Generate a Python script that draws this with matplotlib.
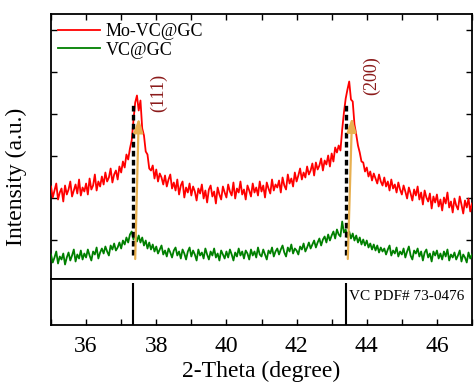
import numpy as np
import matplotlib
matplotlib.use("Agg")
import matplotlib.pyplot as plt

# ---------------- data ----------------
two_theta_start = 35.0
two_theta_step = 0.05

mo_vc_gc = [
    92, 81, 88, 95, 79, 86, 90, 77, 93, 84,
    89, 97, 82, 88, 94, 85, 99, 83, 91, 87,
    95, 84, 100, 89, 93, 104, 88, 97, 92, 102,
    94, 106, 97, 101, 110, 96, 104, 108, 99, 112,
    106, 117, 111, 124, 119, 130, 138, 158, 176, 183,
    168, 178, 150, 143, 127, 124, 110, 108, 113, 100,
    109, 97, 105, 101, 94, 103, 92, 99, 104, 90,
    96, 88, 99, 84, 93, 97, 81, 91, 86, 95,
    83, 92, 87, 78, 90, 85, 94, 80, 88, 76,
    89, 93, 82, 87, 75, 91, 84, 79, 92, 86,
    81, 94, 87, 83, 96, 80, 90, 86, 97, 84,
    89, 79, 93, 88, 82, 95, 86, 91, 83, 97,
    87, 93, 81, 96, 90, 85, 99, 88, 94, 91,
    98, 86, 101, 93, 89, 104, 95, 100, 92, 106,
    97, 103, 110, 99, 106, 101, 112, 104, 108, 115,
    103, 116, 109, 113, 120, 108, 118, 114, 123, 112,
    125, 117, 131, 126, 133, 128, 149, 166, 180, 189,
    197, 179, 177, 154, 144, 133, 126, 117, 116, 107,
    111, 102, 107, 98, 105, 100, 95, 104, 97, 93,
    101, 92, 97, 88, 99, 90, 94, 86, 96, 89,
    84, 93, 87, 80, 91, 85, 78, 89, 83, 92,
    79, 86, 74, 88, 81, 77, 85, 70, 82, 76,
    84, 72, 79, 68, 81, 75, 86, 71, 77, 66,
    80, 73, 69, 82, 74, 65, 78, 71, 80, 67, 75,
]

vc_gc = [
    24, 16, 21, 27, 15, 22, 19, 25, 14, 21,
    26, 18, 23, 29, 17, 24, 20, 28, 19, 25,
    21, 29, 23, 18, 27, 24, 31, 20, 26, 30,
    25, 32, 27, 23, 33, 29, 35, 28, 31, 36,
    30, 38, 34, 41, 36, 44, 47, 39, 45, 37,
    43, 36, 41, 33, 38, 30, 36, 29, 34, 27,
    32, 25, 29, 33, 24, 28, 22, 30, 26, 21,
    28, 31, 23, 27, 20, 29, 25, 19, 27, 31,
    22, 28, 24, 18, 29, 23, 26, 20, 30, 24,
    19, 27, 23, 30, 21, 25, 18, 28, 24, 20,
    27, 21, 29, 24, 18, 26, 22, 30, 23, 27,
    20, 28, 25, 19, 29, 23, 27, 21, 31, 24,
    22, 29, 24, 19, 28, 25, 31, 22, 27, 30,
    24, 29, 33, 26, 22, 31, 27, 34, 25, 30,
    28, 24, 32, 29, 35, 27, 31, 36, 30, 34,
    38, 31, 36, 40, 33, 39, 42, 36, 44, 38,
    43, 47, 40, 49, 44, 42, 57, 46, 49, 41,
    47, 40, 45, 38, 43, 36, 41, 34, 39, 33,
    38, 31, 35, 29, 34, 28, 33, 26, 31, 27,
    30, 24, 29, 33, 23, 28, 25, 31, 22, 27,
    24, 30, 21, 27, 32, 23, 19, 28, 25, 30,
    22, 27, 18, 26, 29, 21, 25, 17, 27, 23,
    28, 20, 25, 19, 27, 22, 29, 18, 24, 21,
    26, 19, 23, 28, 17, 24, 21, 16, 26, 20, 24,
]

series_labels = ["Mo-VC@GC", "VC@GC"]
peak_labels = ["(111)", "(200)"]
peak_label_pos = [38.08, 44.13]
peak_label_y = [186, 203]
dash_pos = [37.33, 43.40]
dash_range = (23.5, 175.5)
arrow_start = [(37.40, 19.5), (43.46, 19.5)]
arrow_end = [(37.50, 160.5), (43.58, 161.0)]

ref_pos = [37.33, 43.40]
ref_height = [0.9, 0.9]
ref_label = "VC PDF# 73-0476"

xticks_major = [36, 38, 40, 42, 44, 46]
xticks_minor = [35, 37, 39, 41, 43, 45, 47]
yticks_top = [38.5, 80.5, 122.5, 164.5, 206.5, 248.5]

# ---------------- plot ----------------
plt.rcParams['font.family'] = ['Liberation Serif', 'DejaVu Serif']

W, H = 474, 387
fig = plt.figure(figsize=(W / 100, H / 100), dpi=100)
left, right = 51 / W, 472 / W
top = 1 - 14 / H
mid = 1 - 278.5 / H
bot = 1 - 325 / H
ax = fig.add_axes([left, mid, right - left, top - mid])
ax2 = fig.add_axes([left, bot, right - left, mid - bot], sharex=ax)

x = two_theta_start + two_theta_step * np.arange(len(mo_vc_gc))
xg = two_theta_start + two_theta_step * np.arange(len(vc_gc))

ax.plot(x, mo_vc_gc, color='#FF0000', lw=1.3, label=series_labels[0], zorder=3)
ax.plot(xg, vc_gc, color='#008000', lw=1.3, label=series_labels[1], zorder=3)

for p in dash_pos:
    ax.plot([p, p], dash_range, color='black', lw=2.4,
            linestyle=(0, (1.7, 1.0)), zorder=5)

for (sx, sy), (ex, ey) in zip(arrow_start, arrow_end):
    ax.annotate('', xy=(ex, ey), xytext=(sx, sy),
                arrowprops=dict(arrowstyle='-|>,head_width=0.28,head_length=0.85',
                                color='#E8B050', lw=1.6, shrinkA=0, shrinkB=0),
                zorder=6)

for lab, px, py in zip(peak_labels, peak_label_pos, peak_label_y):
    ax.text(px, py, lab, rotation=90, color='#8B1A1A', fontsize=13,
            ha='center', va='center')

ax.set_xlim(35, 47)
ax.set_ylim(0, 264.5)
ax.set_yticks(yticks_top)
ax.set_yticklabels([])
ax.tick_params(axis='y', direction='in', length=4, width=1, left=True, right=True)
ax.tick_params(axis='x', which='both', direction='in', length=4, width=1,
               top=True, bottom=False, labelbottom=False)
ax.set_xticks(xticks_major)
ax.set_xticks(xticks_minor, minor=True)

leg = ax.legend(loc='upper left', bbox_to_anchor=(7 / 421, 1 - 9 / 264.5),
                frameon=False, fontsize=13, handlelength=2.35,
                handletextpad=0.3, labelspacing=0.1, borderpad=0,
                borderaxespad=0)
for line in leg.get_lines():
    line.set_linewidth(1.3)

ax.set_ylabel('Intensity (a.u.)', fontsize=17)
ax.yaxis.set_label_coords(-24 / 421, (278.5 - 177) / 264.5)

ax2.vlines(ref_pos, 0, ref_height, color='black', lw=1.5)
ax2.text(43.48, 0.54, ref_label, fontsize=11, ha='left', va='baseline')
ax2.set_ylim(0, 1)
ax2.set_yticks([])
ax2.tick_params(axis='x', which='both', direction='in', length=4, width=1,
                labelsize=17, pad=8)
ax2.set_xticks(xticks_major)
ax2.set_xticks(xticks_minor, minor=True)
ax2.set_xlabel('2-Theta (degree)', fontsize=17, labelpad=3)

for a in (ax, ax2):
    for s in a.spines.values():
        s.set_linewidth(1.3)

fig.savefig('out.png', dpi=100)
